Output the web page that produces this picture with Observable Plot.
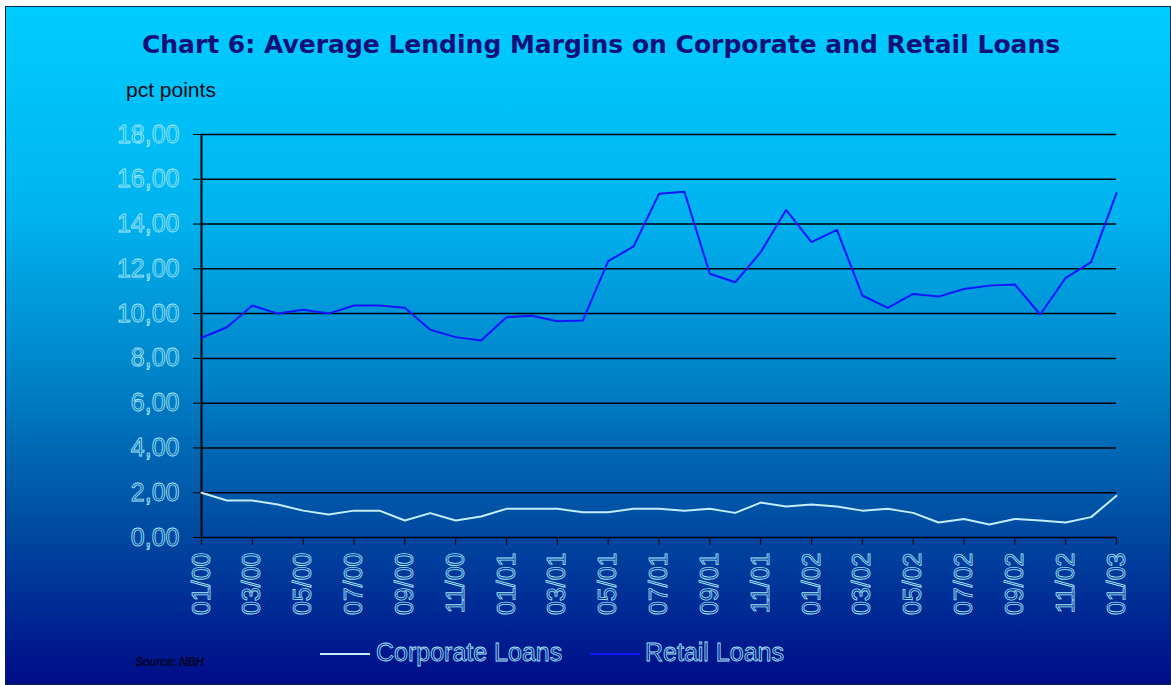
<!DOCTYPE html>
<html>
<head>
<meta charset="utf-8">
<script src="https://cdn.jsdelivr.net/npm/d3@7"></script>
<script src="https://cdn.jsdelivr.net/npm/@observablehq/plot@0.6"></script>
<style>
  html, body { margin: 0; padding: 0; background: #ffffff; width: 1171px; height: 685px; overflow: hidden; }
  #bg {
    position: absolute; left: 5px; top: 6px; width: 1164px; height: 677px;
    border: 1px solid #0b2440;
    background: linear-gradient(to bottom, #00ccff 0%, #00b4f0 30%, #0082c8 55%, #0050a4 75%, #000c88 100%);
  }
  #title {
    position: absolute; left: 101px; width: 1000px; top: 30px; text-align: center;
    font-family: "DejaVu Sans", Verdana, sans-serif; font-weight: bold; font-size: 25px;
    color: #10107a; white-space: nowrap;
  }
  #unit {
    position: absolute; left: 126px; top: 78px;
    font-family: "Liberation Sans", Arial, sans-serif; font-size: 21px; color: #0a0a1a;
    white-space: nowrap;
  }
  #plot { position: absolute; left: 0; top: 0; }
  #plot g[aria-label="y-axis tick label"] text,
  #plot g[aria-label="x-axis tick label"] text {
    fill: none; stroke: #a8e8f8; stroke-width: 0.8px;
  }
  #legend { position: absolute; left: 0; top: 0; }
  .lg-line { position: absolute; height: 2px; width: 50px; }
  .lg-text {
    position: absolute; font-family: "Liberation Sans", Arial, sans-serif; font-size: 25px;
    color: transparent; -webkit-text-stroke: 0.8px #a8e8f8; white-space: nowrap;
  }
  #source {
    position: absolute; left: 135px; top: 655px;
    font-family: "Liberation Sans", Arial, sans-serif; font-style: italic; font-weight: bold;
    font-size: 12px; color: #05052a; letter-spacing: -0.5px; white-space: nowrap;
  }
</style>
</head>
<body>
<div id="bg"></div>
<div id="title">Chart 6: Average Lending Margins on Corporate and Retail Loans</div>
<div id="unit">pct points</div>
<div id="plot"></div>
<div id="legend"></div>
<div id="source">Source: NBH</div>
<script>
const months = [
  "01/00","02/00","03/00","04/00","05/00","06/00","07/00","08/00","09/00","10/00","11/00","12/00",
  "01/01","02/01","03/01","04/01","05/01","06/01","07/01","08/01","09/01","10/01","11/01","12/01",
  "01/02","02/02","03/02","04/02","05/02","06/02","07/02","08/02","09/02","10/02","11/02","12/02",
  "01/03"
];
const corporate = [
  2.00, 1.65, 1.65, 1.47, 1.20, 1.03, 1.20, 1.20, 0.76, 1.09, 0.76, 0.94,
  1.28, 1.28, 1.28, 1.13, 1.13, 1.28, 1.28, 1.20, 1.28, 1.10, 1.56, 1.38,
  1.47, 1.38, 1.20, 1.28, 1.10, 0.67, 0.83, 0.58, 0.83, 0.76, 0.67, 0.91,
  1.86
];
const retail = [
  8.92, 9.39, 10.36, 10.00, 10.17, 10.00, 10.36, 10.36, 10.26, 9.28, 8.95, 8.80,
  9.84, 9.90, 9.66, 9.69, 12.34, 13.00, 15.35, 15.44, 11.78, 11.40, 12.74, 14.63,
  13.19, 13.74, 10.81, 10.26, 10.88, 10.76, 11.10, 11.25, 11.30, 9.96, 11.60, 12.30,
  15.38
];
const seriesNames = ["Corporate Loans", "Retail Loans"];
const seriesColors = ["#c4eefc", "#1414ff"];
const yTicks = [0, 2, 4, 6, 8, 10, 12, 14, 16, 18];
const xTicks = ["01/00","03/00","05/00","07/00","09/00","11/00","01/01","03/01","05/01","07/01","09/01","11/01","01/02","03/02","05/02","07/02","09/02","11/02","01/03"];

const rows = months.flatMap((m, i) => [
  {month: m, series: seriesNames[0], value: corporate[i]},
  {month: m, series: seriesNames[1], value: retail[i]}
]);

const chart = Plot.plot({
  width: 1171,
  height: 685,
  marginLeft: 201,
  marginRight: 55,
  marginTop: 134,
  marginBottom: 148,
  style: {background: "transparent", fontFamily: "'Liberation Sans', Arial, sans-serif", fontSize: "25px", overflow: "visible"},
  x: {type: "point", domain: months, padding: 0, round: false},
  y: {domain: [0, 18]},
  color: {domain: seriesNames, range: seriesColors},
  marks: [
    Plot.gridY(yTicks, {stroke: "#000", strokeOpacity: 1, strokeWidth: 1.5}),
    Plot.ruleX([months[0]], {stroke: "#000", strokeWidth: 2}),
    Plot.axisY(yTicks, {color: "#000", tickSize: 8, tickPadding: 14, tickFormat: d => d.toFixed(2).replace(".", ","), fontSize: 25, label: null}),
    Plot.axisX(xTicks, {color: "#000", tickSize: 8, tickPadding: 7, tickRotate: -90, fontSize: 25, label: null}),
    Plot.line(rows, {x: "month", y: "value", z: "series", stroke: "series", strokeWidth: 2})
  ]
});
document.getElementById("plot").appendChild(chart);

const legend = document.getElementById("legend");
const legendPos = [{line: 320, text: 376}, {line: 590, text: 645}];
seriesNames.forEach((name, i) => {
  const ln = document.createElement("div");
  ln.className = "lg-line";
  ln.style.left = legendPos[i].line + "px";
  ln.style.top = "653px";
  ln.style.background = seriesColors[i];
  legend.appendChild(ln);
  const tx = document.createElement("div");
  tx.className = "lg-text";
  tx.style.left = legendPos[i].text + "px";
  tx.style.top = "638px";
  tx.textContent = name;
  legend.appendChild(tx);
});
</script>
</body>
</html>
